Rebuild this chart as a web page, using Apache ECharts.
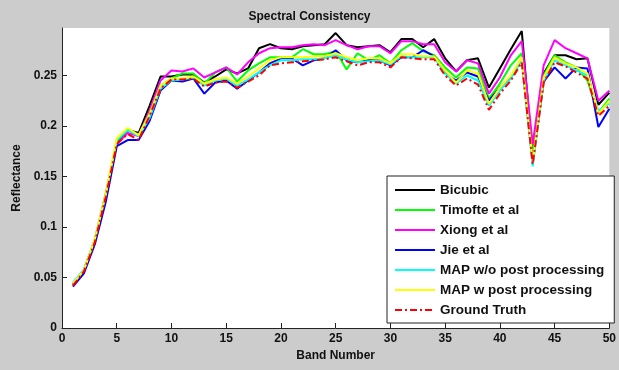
<!DOCTYPE html>
<html>
<head>
<meta charset="utf-8">
<script src="https://cdn.jsdelivr.net/npm/echarts@6/dist/echarts.min.js"></script>
<style>
  html, body { margin: 0; padding: 0; background: #cccccc; }
  #chart { width: 619px; height: 370px; }
</style>
</head>
<body>
<div id="chart"></div>
<script>
// band numbers 1..50
const bands = [1,2,3,4,5,6,7,8,9,10,11,12,13,14,15,16,17,18,19,20,21,22,23,24,25,26,27,28,29,30,31,32,33,34,35,36,37,38,39,40,41,42,43,44,45,46,47,48,49,50];

const bicubic = [0.043,0.057,0.087,0.133,0.183,0.196,0.193,0.220,0.249,0.249,0.251,0.251,0.243,0.249,0.256,0.252,0.257,0.277,0.281,0.277,0.276,0.279,0.280,0.281,0.292,0.280,0.278,0.279,0.280,0.273,0.286,0.286,0.278,0.286,0.267,0.254,0.265,0.267,0.238,0.257,0.276,0.294,0.169,0.252,0.270,0.270,0.266,0.267,0.221,0.233];
const timofte = [0.044,0.057,0.087,0.131,0.185,0.196,0.190,0.215,0.240,0.247,0.252,0.252,0.242,0.253,0.258,0.244,0.255,0.262,0.268,0.268,0.268,0.276,0.271,0.271,0.274,0.256,0.272,0.265,0.270,0.262,0.275,0.282,0.274,0.270,0.258,0.248,0.258,0.257,0.227,0.242,0.260,0.272,0.169,0.250,0.270,0.263,0.258,0.245,0.213,0.227];
const xiong = [0.043,0.057,0.086,0.130,0.182,0.193,0.190,0.215,0.245,0.255,0.254,0.257,0.248,0.253,0.258,0.251,0.263,0.272,0.277,0.278,0.278,0.280,0.281,0.280,0.285,0.280,0.276,0.279,0.279,0.272,0.284,0.284,0.281,0.281,0.263,0.254,0.265,0.262,0.232,0.248,0.270,0.284,0.182,0.260,0.285,0.277,0.272,0.267,0.225,0.235];
const jie = [0.041,0.054,0.083,0.125,0.180,0.186,0.186,0.205,0.235,0.245,0.244,0.247,0.232,0.243,0.245,0.237,0.245,0.253,0.262,0.267,0.267,0.260,0.265,0.267,0.275,0.265,0.263,0.265,0.265,0.260,0.268,0.268,0.275,0.269,0.252,0.245,0.253,0.249,0.225,0.238,0.248,0.267,0.164,0.244,0.258,0.247,0.258,0.257,0.199,0.217];
const mapWo = [0.045,0.058,0.088,0.132,0.186,0.196,0.190,0.208,0.237,0.245,0.246,0.248,0.240,0.245,0.247,0.240,0.246,0.253,0.260,0.265,0.265,0.266,0.266,0.267,0.270,0.266,0.263,0.264,0.265,0.261,0.269,0.268,0.268,0.268,0.252,0.242,0.250,0.245,0.220,0.235,0.247,0.265,0.160,0.245,0.265,0.260,0.255,0.250,0.215,0.222];
const mapW = [0.044,0.057,0.088,0.133,0.188,0.198,0.191,0.212,0.240,0.247,0.247,0.249,0.242,0.246,0.248,0.242,0.249,0.257,0.265,0.268,0.268,0.268,0.269,0.269,0.272,0.268,0.265,0.267,0.267,0.262,0.271,0.271,0.269,0.269,0.255,0.243,0.255,0.252,0.222,0.238,0.250,0.268,0.165,0.248,0.268,0.262,0.258,0.252,0.212,0.225];
const groundTruth = [0.042,0.056,0.085,0.130,0.182,0.192,0.186,0.210,0.237,0.246,0.246,0.247,0.239,0.243,0.244,0.238,0.244,0.250,0.260,0.262,0.263,0.264,0.265,0.266,0.268,0.264,0.260,0.263,0.263,0.258,0.268,0.267,0.266,0.266,0.250,0.240,0.247,0.241,0.216,0.232,0.245,0.263,0.162,0.243,0.263,0.259,0.253,0.247,0.210,0.220];

const yTicks = [0, 0.05, 0.1, 0.15, 0.2, 0.25];
const xTicks = [0, 5, 10, 15, 20, 25, 30, 35, 40, 45, 50];

const font = '"Liberation Sans", Arial, sans-serif';

function line(name, values, color, dashed) {
  return {
    name: name,
    type: 'line',
    data: bands.map((b, i) => [b, values[i]]),
    symbol: 'none',
    animation: false,
    lineStyle: { color: color, width: 2, type: dashed ? [7, 3, 2, 3] : 'solid' },
    itemStyle: { color: color }
  };
}

const chart = echarts.init(document.getElementById('chart'), null, { renderer: 'canvas' });
chart.setOption({
  backgroundColor: '#cccccc',
  textStyle: { fontFamily: font },
  title: {
    text: 'Spectral Consistency',
    left: 'center', top: 6,
    textStyle: { fontSize: 12, fontWeight: 'bold', color: '#111', fontFamily: font }
  },
  grid: { left: 62, right: 4, top: 28, bottom: 42, show: true, backgroundColor: '#ffffff', borderWidth: 0 },
  xAxis: {
    type: 'value', min: 0, max: 50, interval: 5,
    name: 'Band Number', nameLocation: 'middle', nameGap: 21,
    nameTextStyle: { fontSize: 12, fontWeight: 'bold', color: '#111' },
    axisLine: { lineStyle: { color: '#222', width: 1 } },
    axisTick: { inside: true, length: 5, lineStyle: { color: '#222' } },
    axisLabel: { fontSize: 12, fontWeight: 'bold', color: '#111', margin: 5, customValues: xTicks },
    splitLine: { show: false }
  },
  yAxis: {
    type: 'value', min: 0, max: 0.297,
    name: 'Reflectance', nameLocation: 'middle', nameGap: 36,
    nameTextStyle: { fontSize: 12, fontWeight: 'bold', color: '#111' },
    axisLine: { show: true, lineStyle: { color: '#222', width: 1 } },
    axisTick: { show: true, inside: true, length: 5, lineStyle: { color: '#222' }, customValues: yTicks },
    axisLabel: { fontSize: 12, fontWeight: 'bold', color: '#111', margin: 5, customValues: yTicks },
    splitLine: { show: false }
  },
  legend: {
    orient: 'vertical', left: 387, top: 176,
    backgroundColor: '#ffffff', borderColor: '#222', borderWidth: 1,
    padding: [7, 10, 6, 7],
    itemWidth: 40, itemHeight: 14, itemGap: 6,
    itemStyle: { opacity: 0, borderWidth: 0 },
    textStyle: { fontSize: 13.5, fontWeight: 'bold', color: '#111', fontFamily: font }
  },
  series: [
    line('Bicubic', bicubic, '#000000'),
    line('Timofte et al', timofte, '#00ff00'),
    line('Xiong et al', xiong, '#ff00ff'),
    line('Jie et al', jie, '#0000ff'),
    line('MAP w/o post processing', mapWo, '#00ffff'),
    line('MAP w post processing', mapW, '#ffff00'),
    line('Ground Truth', groundTruth, '#ff0000', true)
  ]
});
</script>
</body>
</html>
